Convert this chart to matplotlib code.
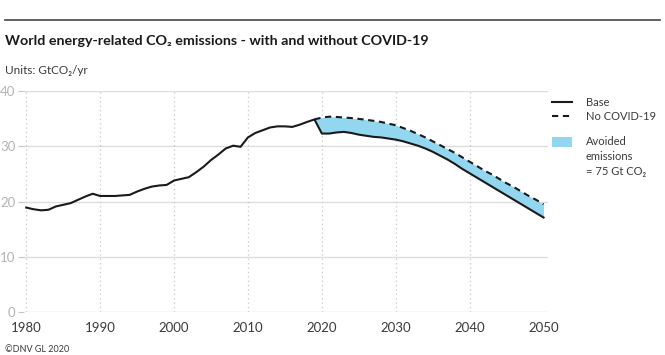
import numpy as np
import matplotlib.pyplot as plt
from matplotlib.lines import Line2D
from matplotlib.patches import Rectangle

# historique + scénario de base (GtCO2/yr)
annees_hist = list(range(1980, 2020))
base_hist = [18.9, 18.6, 18.4, 18.5, 19.1, 19.4, 19.7, 20.3, 20.9, 21.4,
             21.0, 21.0, 21.0, 21.1, 21.2, 21.8, 22.3, 22.7, 22.9, 23.0,
             23.8, 24.1, 24.4, 25.3, 26.3, 27.5, 28.5, 29.6, 30.1, 29.9,
             31.6, 32.4, 32.9, 33.4, 33.6, 33.6, 33.5, 33.9, 34.4, 34.85]

annees_proj = list(range(2019, 2051))
base_proj = [34.85, 32.3, 32.3, 32.5, 32.6, 32.4, 32.1, 31.9, 31.7, 31.6,
             31.4, 31.2, 30.9, 30.5, 30.1, 29.6, 29.0, 28.3, 27.6, 26.8,
             25.9, 25.1, 24.3, 23.5, 22.7, 21.9, 21.1, 20.3, 19.5, 18.7,
             17.9, 17.1]
sans_covid = [34.85, 35.2, 35.35, 35.3, 35.2, 35.1, 34.95, 34.8, 34.6, 34.4,
              34.1, 33.8, 33.3, 32.8, 32.2, 31.6, 30.9, 30.2, 29.5, 28.8,
              28.0, 27.2, 26.4, 25.6, 24.9, 24.1, 23.3, 22.6, 21.8, 21.0,
              20.3, 19.5]

y_ticks = [0, 10, 20, 30, 40]
x_ticks = [1980, 1990, 2000, 2010, 2020, 2030, 2040, 2050]
legende = ['Base', 'No COVID-19', 'Avoided\nemissions\n= 75 Gt CO\u2082']

FONTES = ['Lato', 'DejaVu Sans']
plt.rcParams['font.family'] = FONTES

W, H = 665, 355
fig = plt.figure(figsize=(W / 100, H / 100), dpi=100)
ax = fig.add_axes([24 / W, 1 - 312 / H, 524 / W, 221 / H])

bleu = '#93d6ef'
noir = '#1a1a1a'
tirets = (0, (3, 2.2))
ax.fill_between(annees_proj, base_proj, sans_covid, color=bleu, lw=0, zorder=2)
ax.plot(annees_hist + annees_proj[1:], base_hist + base_proj[1:],
        color=noir, lw=1.5, zorder=4)
ax.plot(annees_proj, sans_covid, color=noir, lw=1.5, ls=tirets, zorder=3)

# grilles
for v in y_ticks:
    ax.axhline(v, color='#dddddd', lw=1, zorder=1)
for x in x_ticks[:-1]:
    ax.axvline(x, color='#c8c8c8', lw=0.9, ls=(0, (1, 2.5)), zorder=1)

ax.set_xlim(1979.7, 2050.6)
ax.set_ylim(0, 40)
ax.set_xticks(x_ticks)
ax.set_yticks(y_ticks)
for s in ax.spines.values():
    s.set_visible(False)
ax.tick_params(axis='x', length=0, pad=7, labelsize=9.5, labelcolor='#3a3a3a')
ax.tick_params(axis='y', length=4, width=0.8, color='#c8c8c8', pad=2,
               labelsize=9.5, labelcolor='#b4b4b4')

# titre, unités, source
fig.add_artist(Line2D([5 / W, 660 / W], [1 - 20 / H] * 2, color='#555555', lw=1.3))
fig.text(5 / W, 1 - 41 / H, 'World energy-related CO\u2082 emissions - with and without COVID-19',
         fontsize=10.3, fontweight='bold', color=noir, va='center')
fig.text(5 / W, 1 - 70 / H, 'Units: GtCO\u2082/yr', fontsize=8.5,
         color='#3a3a3a', va='center')
fig.text(5 / W, 1 - 349 / H, '\u00a9DNV GL 2020', fontsize=6.5,
         color='#3a3a3a', va='center')

# légende dessinée à la main
fig.add_artist(Line2D([552 / W, 572 / W], [1 - 102 / H] * 2, color=noir, lw=1.5))
fig.add_artist(Line2D([552 / W, 572 / W], [1 - 116 / H] * 2, color=noir, lw=1.5, ls=tirets))
fig.add_artist(Rectangle((552 / W, 1 - 147 / H), 20 / W, 10 / H,
                         facecolor=bleu, lw=0, transform=fig.transFigure))
fig.text(586 / W, 1 - 102 / H, legende[0], fontsize=8, color='#3a3a3a', va='center')
fig.text(586 / W, 1 - 116 / H, legende[1], fontsize=8, color='#3a3a3a', va='center')
fig.text(586 / W, 1 - 136 / H, legende[2], fontsize=8, color='#3a3a3a', va='top',
         linespacing=1.45)

fig.savefig('out.png', dpi=100)
